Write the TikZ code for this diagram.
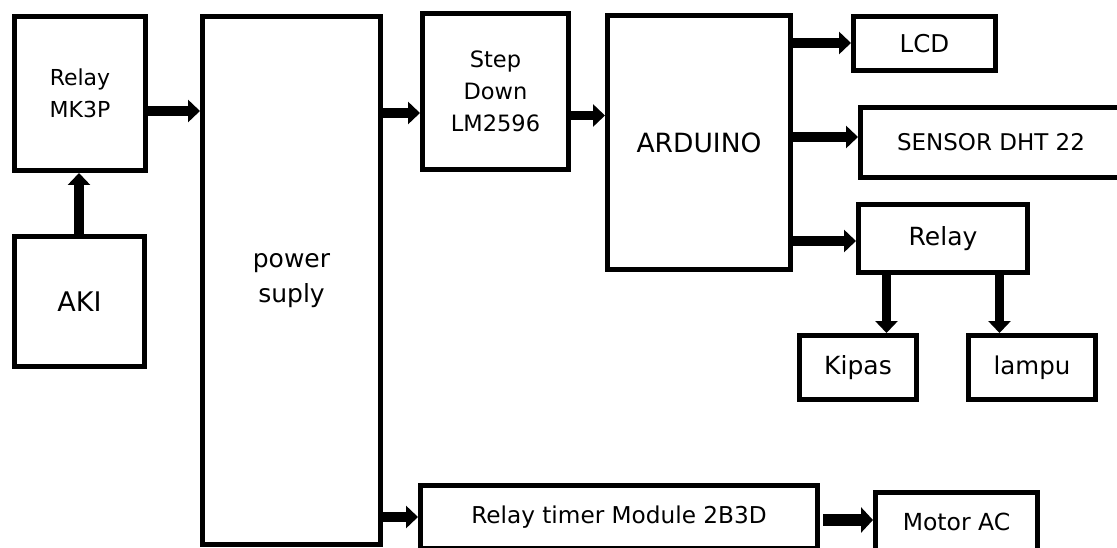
\documentclass[tikz,border=0pt]{standalone}
\usepackage{fontspec}
\setmainfont{DejaVu Sans}
\usetikzlibrary{arrows.meta}
\begin{document}
\begin{tikzpicture}[x=1pt,y=1pt,
  blk/.style={draw, line width=5pt, rectangle, inner sep=0pt, align=center},
  arr/.style={line width=9.5pt, -{Triangle[width=22pt,length=12pt]}},
  fs/.style={font=\fontsize{#1pt}{34pt}\selectfont}]
\useasboundingbox (0,0) rectangle (1117,-548);
\clip (0,0) rectangle (1117,-548);
% blocks
\node[blk, font=\fontsize{22pt}{32pt}\selectfont, minimum width=131, minimum height=154] (mk3p) at (80,-93.5) {Relay\\MK3P};
\node[blk, fs=27,   minimum width=130, minimum height=130] (aki)     at (79.5,-301.5) {AKI};
\node[blk, font=\fontsize{25pt}{35pt}\selectfont, minimum width=178, minimum height=528] (power) at (291.5,-280.5) {power\\suply};
\node[blk, font=\fontsize{22.5pt}{31.7pt}\selectfont, minimum width=146, minimum height=156] (step) at (495.5,-91.5) {Step\\Down\\LM2596};
\node[blk, fs=26.5, minimum width=183, minimum height=254] (arduino) at (699,-142.5)  {ARDUINO};
\node[blk, fs=24.5, minimum width=142, minimum height=54]  (lcd)     at (924.5,-43.5) {LCD};
\node[blk, fs=23,   minimum width=261, minimum height=70]  (sensor)  at (991,-142.5)  {SENSOR DHT 22};
\node[blk, fs=25,   minimum width=169, minimum height=68]  (relay)   at (943,-238.5)  {Relay};
\node[blk, fs=25,   minimum width=117, minimum height=64]  (kipas)   at (858,-367.5)  {Kipas};
\node[blk, fs=24.5, minimum width=127, minimum height=64]  (lampu)   at (1032,-367.5) {lampu};
\node[blk, fs=23.2, minimum width=397, minimum height=63]  (timer)   at (619,-517)    {Relay timer Module 2B3D};
\node[blk, fs=23.5, minimum width=162, minimum height=59]  (motor)   at (956.5,-522)  {Motor AC};
% connector levels
\coordinate (l1) at (0,-111);
\coordinate (l2) at (0,-113);
\coordinate (l3) at (0,-115.5);
\coordinate (l4) at (0,-43);
\coordinate (l5) at (0,-137);
\coordinate (l6) at (0,-241);
\coordinate (l7) at (0,-517);
\coordinate (l8) at (0,-520);
\coordinate (v1) at (79,0);
\coordinate (v2) at (886.5,0);
\coordinate (v3) at (999.5,0);
% connectors
\draw[arr] (aki.north -| v1) -- (mk3p.south -| v1);
\draw[arr] (mk3p.east |- l1) -- (power.west |- l1);
\draw[arr] (power.east |- l2) -- (step.west |- l2);
\draw[arr] (step.east |- l3) -- (arduino.west |- l3);
\draw[arr] (arduino.east |- l4) -- (lcd.west |- l4);
\draw[arr] (arduino.east |- l5) -- (sensor.west |- l5);
\draw[arr] (arduino.east |- l6) -- (relay.west |- l6);
\draw[arr] (relay.south -| v2) -- (kipas.north -| v2);
\draw[arr] (relay.south -| v3) -- (lampu.north -| v3);
\draw[arr] (power.east |- l7) -- (timer.west |- l7);
\draw[arr, line width=12pt, shorten <=3pt, -{Triangle[width=25pt,length=12pt]}] (timer.east |- l8) -- (motor.west |- l8);
\end{tikzpicture}
\end{document}
